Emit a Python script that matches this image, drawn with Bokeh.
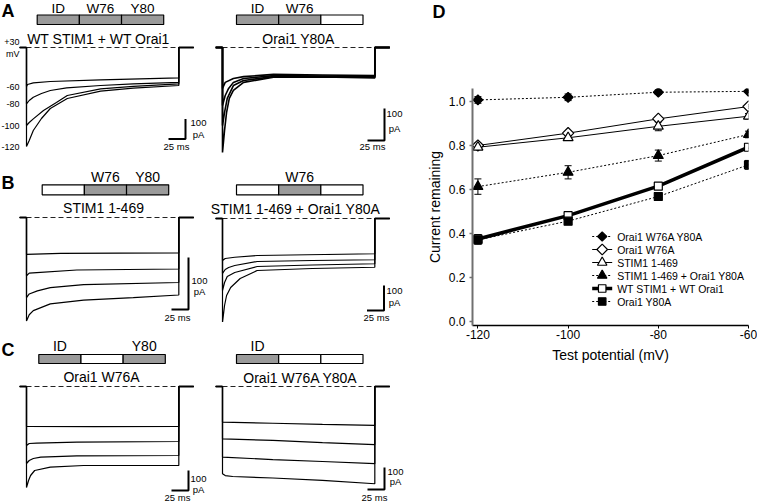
import math
from bokeh.plotting import figure
from bokeh.layouts import row, column
from bokeh.models import (Range1d, ColumnDataSource, Whisker, TeeHead, Title,
                          FixedTicker, NumeralTickFormatter)
from bokeh.core.properties import value
from bokeh.embed import file_html
from bokeh.resources import INLINE

FONT = "Liberation Sans"
GRAY = "#9a9a9a"

# ---------------- Panel D: current remaining vs test potential ----------------
test_potential = [-120, -100, -80, -60]
x_tick_labels = ["-120", "-100", "-80", "-60"]
y_ticks = [0.0, 0.2, 0.4, 0.6, 0.8, 1.0]

w76a_y80a_rem = [1.006, 1.018, 1.041, 1.045]
w76a_y80a_err = [0.015, 0.015, 0.010, 0.006]
w76a_rem = [0.799, 0.855, 0.920, 0.976]
w76a_err = [0.010, 0.008, 0.010, 0.010]
s469_rem = [0.791, 0.834, 0.886, 0.932]
s469_err = [0.010, 0.010, 0.020, 0.012]
s469_y80a_rem = [0.612, 0.677, 0.753, 0.849]
s469_y80a_err = [0.035, 0.030, 0.025, 0.015]
wt_rem = [0.374, 0.480, 0.614, 0.791]
wt_err = [0.020, 0.015, 0.010, 0.015]
y80a_rem = [0.370, 0.455, 0.567, 0.711]
y80a_err = [0.020, 0.012, 0.015, 0.020]

# ---------------- Panels A-C: current traces (time ms, current pA) ----------------
step_labels = ["-60", "-80", "-100", "-120"]

# A left: WT STIM1 + WT Orai1
wt_t = [[0, 1.5, 10, 35, 109, 224],
        [0, 4, 10, 22, 35, 59, 109, 157, 224],
        [0, 4, 10, 25, 44, 60, 109, 157, 224],
        [0, 4, 10, 22, 35, 60, 109, 157, 224]]
wt_i = [[-195, -185, -177, -170, -162, -152],
        [-282, -265, -249, -230, -215, -202, -190, -182, -174],
        [-390, -375, -357, -315, -275, -240, -207, -194, -182],
        [-495, -465, -415, -355, -305, -255, -218, -203, -190]]
# A right: Orai1 Y80A
y80a_t = [[0, 4, 16, 31, 75, 147, 224],
          [0, 4, 9, 16, 31, 75, 147, 224],
          [0, 3, 7, 16, 31, 75, 147, 224],
          [0, 3, 6, 10, 16, 31, 75, 147, 224]]
y80a_i = [[-128, -109, -97, -91, -84, -86, -88],
          [-181, -150, -128, -109, -97, -88, -89, -91],
          [-244, -203, -159, -119, -103, -91, -91, -93],
          [-328, -259, -203, -159, -134, -109, -93, -92, -95]]
# B left: STIM1 1-469
s469_t = [[0, 50, 224],
          [0, 4, 15, 74, 224],
          [0, 4, 16, 35, 84, 224],
          [0, 4, 10, 35, 84, 157, 224]]
s469_i = [[-71, -69, -68],
          [-112, -107, -106, -101, -99],
          [-154, -147, -141, -135, -129, -125],
          [-199, -187, -179, -166, -159, -154, -149]]
# B right: STIM1 1-469 + Orai1 Y80A
s469y_t = [[0, 4, 18, 51, 224],
           [0, 4, 9, 18, 51, 132, 224],
           [0, 3, 7, 18, 51, 132, 224],
           [0, 3, 6, 12, 26, 51, 132, 224]]
s469y_i = [[-168, -160, -155, -148, -141],
           [-220, -204, -196, -188, -172, -168, -165],
           [-288, -256, -232, -216, -192, -186, -181],
           [-416, -348, -308, -276, -240, -208, -200, -195]]
# C left: Orai1 W76A
w76a_t = [[0, 100, 224],
          [0, 4, 15, 74, 224],
          [0, 4, 10, 21, 74, 224],
          [0, 3, 6, 12, 35, 84, 224]]
w76a_i = [[-200, -201, -200],
          [-295, -285, -283, -278, -275],
          [-385, -370, -360, -353, -347, -345],
          [-505, -470, -445, -420, -403, -395, -395]]
# C right: Orai1 W76A Y80A
w76ay_t = [[0, 74, 147, 224],
           [0, 74, 147, 224],
           [0, 74, 147, 224],
           [0, 4, 15, 74, 147, 224]]
w76ay_i = [[-162, -167, -172, -177],
           [-238, -245, -255, -264],
           [-321, -332, -341, -351],
           [-397, -405, -409, -416, -427, -442]]

DOMAIN_NAMES = ["ID", "W76", "Y80"]

# ---------------- layout constants (page pixels) ----------------
MS_PER_PX = 25.0 / 17.0
PRE_MS, POST_MS = -10.0, 22.0
COL_X = [0, 209]
COL_W = [209, 196]
ROW_Y = [0, 170, 322]
ROW_H = [170, 152, 181]
DOMAIN_W = 126.5

panels = [
    dict(row=0, col=0, t=wt_t, i=wt_i, tx=26, by=47, bar_px=20, lw=1.2,
         letter="A", letter_y=10, title="WT STIM1 + WT Orai1", title_xy=(98, 38),
         domains=[1, 1, 1], dom_x=36.7, dom_top=14.5, dom_h=9.5, lab_y=7.6, lab_fs="13.5px",
         corner=(185, 138.5), s100=(198, 122), spa=(198, 133.5), sms=(176, 146), steps=True),
    dict(row=0, col=1, t=y80a_t, i=y80a_i, tx=222, by=47, bar_px=32, lw=1.6,
         letter=None, title="Orai1 Y80A", title_xy=(298, 38),
         domains=[1, 1, 0], dom_x=236, dom_top=14.5, dom_h=9.5, lab_y=7.6, lab_fs="13.5px",
         corner=(384, 140), s100=(394, 113), spa=(394, 128), sms=(372, 146), steps=False),
    dict(row=1, col=0, t=s469_t, i=s469_i, tx=26, by=217, bar_px=52, lw=1.2,
         letter="B", letter_y=182.5, title="STIM1 1-469", title_xy=(103, 207.5),
         domains=[0, 1, 1], dom_x=41.7, dom_top=184.3, dom_h=10, lab_y=176.5, lab_fs="14px",
         corner=(188, 309), s100=(199, 280), spa=(199, 291), sms=(177, 316.5), steps=False),
    dict(row=1, col=1, t=s469y_t, i=s469y_i, tx=222, by=218, bar_px=25, lw=1.2,
         letter=None, title="STIM1 1-469 + Orai1 Y80A", title_xy=(295, 208.3),
         domains=[0, 1, 0], dom_x=236, dom_top=184.3, dom_h=10, lab_y=176.5, lab_fs="14px",
         corner=(383.5, 310), s100=(394, 290), spa=(394, 302), sms=(376, 316.5), steps=False),
    dict(row=2, col=0, t=w76a_t, i=w76a_i, tx=26, by=386, bar_px=20, lw=1.2,
         letter="C", letter_y=349, title="Orai1 W76A", title_xy=(101, 376.7),
         domains=[1, 0, 1], dom_x=38.3, dom_top=354, dom_h=9, lab_y=345, lab_fs="14px",
         corner=(188, 490), s100=(198, 478), spa=(198, 489), sms=(177, 496.5), steps=False),
    dict(row=2, col=1, t=w76ay_t, i=w76ay_i, tx=222, by=386, bar_px=22, lw=1.2,
         letter=None, title="Orai1 W76A Y80A", title_xy=(300, 377.3),
         domains=[1, 0, 0], dom_x=236, dom_top=354, dom_h=9, lab_y=345, lab_fs="14px",
         corner=(384, 489), s100=(395, 471), spa=(395, 481), sms=(374, 496.5), steps=False),
]

TXT = dict(text_font=value(FONT), text_color="black")


def trace_panel(c):
    x0, y0 = COL_X[c["col"]], ROW_Y[c["row"]]
    W, H = COL_W[c["col"]], ROW_H[c["row"]]
    m = 100.0 / c["bar_px"]

    def fx(px):
        return (px - c["tx"]) * MS_PER_PX

    def fy(py):
        return -(py - c["by"]) * m

    p = figure(width=W, height=H, x_range=Range1d(fx(x0), fx(x0 + W)),
               y_range=Range1d(fy(y0 + H), fy(y0)), x_axis_type=None, y_axis_type=None,
               toolbar_location=None, output_backend="svg", min_border=0,
               outline_line_color=None)
    end = c["t"][0][-1]
    p.line([0, end], [0, 0], line_dash="5 3", line_color="#222222", line_width=1)
    xs, ys = [], []
    for t, cur in zip(c["t"], c["i"]):
        xs.append([PRE_MS, 0] + list(t) + [t[-1], t[-1] + POST_MS])
        ys.append([0, 0] + list(cur) + [0, 0])
    p.multi_line(xs, ys, line_color="black", line_width=c["lw"])
    p.multi_line([[PRE_MS, 0], [end, end + POST_MS]], [[0, 0], [0, 0]],
                 line_color="black", line_width=2)

    # scale bar: 25 ms x 100 pA
    cx, cy = fx(c["corner"][0]), fy(c["corner"][1])
    p.line([cx - 25, cx, cx], [cy, cy, cy + 100], line_color="black", line_width=2)
    p.text(x=[fx(c["s100"][0]), fx(c["spa"][0])], y=[fy(c["s100"][1]), fy(c["spa"][1])],
           text=["100", "pA"], text_font_size="9.5px", text_align="center",
           text_baseline="middle", **TXT)
    p.text(x=[fx(c["sms"][0])], y=[fy(c["sms"][1])], text=["25 ms"],
           text_font_size="9.5px", text_align="center", text_baseline="middle", **TXT)

    # domain bar
    seg = DOMAIN_W / 3
    lefts = [fx(c["dom_x"] + k * seg) for k in range(3)]
    rights = [fx(c["dom_x"] + (k + 1) * seg) for k in range(3)]
    top, bot = fy(c["dom_top"]), fy(c["dom_top"] + c["dom_h"])
    fills = [GRAY if d else "white" for d in c["domains"]]
    p.quad(left=lefts, right=rights, top=[top] * 3, bottom=[bot] * 3,
           fill_color=fills, line_color="black", line_width=1.2)
    names = [n for n, d in zip(DOMAIN_NAMES, c["domains"]) if d]
    ncx = [fx(c["dom_x"] + (k + 0.5) * seg) for k, d in enumerate(c["domains"]) if d]
    p.text(x=ncx, y=[fy(c["lab_y"])] * len(ncx), text=names,
           text_font_size=c["lab_fs"], text_align="center", text_baseline="middle", **TXT)

    p.text(x=[fx(c["title_xy"][0])], y=[fy(c["title_xy"][1])], text=[c["title"]],
           text_font_size="14px", text_align="center", text_baseline="middle", **TXT)

    if c["letter"]:
        p.text(x=[fx(1)], y=[fy(c["letter_y"])], text=[c["letter"]], text_font_size="18px",
               text_font_style="bold", text_align="left", text_baseline="middle", **TXT)

    if c["steps"]:
        lab_y = [cur[0] for cur in c["i"]] + [fy(41), fy(53)]
        p.text(x=[fx(19)] * 6, y=lab_y, text=step_labels + ["+30", "mV"],
               text_font_size="9px", text_align="right", text_baseline="middle", **TXT)
    return p


figs = [trace_panel(c) for c in panels]

# ---------------- Panel D ----------------
D_W, D_H = 352, 503
FR_L, FR_R, FR_T, FR_B = 67, 343, 88, 325      # frame inside the D figure (px)
XR = (-121.2, -60.0)
YR = (-0.0195, 1.058)

pD = figure(width=D_W, height=D_H, x_range=Range1d(*XR), y_range=Range1d(*YR),
            toolbar_location=None, output_backend="svg",
            min_border_left=FR_L, min_border_right=D_W - FR_R, min_border_top=FR_T,
            min_border_bottom=D_H - FR_B, outline_line_color=None)
pD.xgrid.visible = False
pD.ygrid.visible = False
pD.xaxis.ticker = FixedTicker(ticks=test_potential)
pD.xaxis.major_label_overrides = dict(zip(test_potential, x_tick_labels))
pD.yaxis.ticker = FixedTicker(ticks=y_ticks)
pD.yaxis.formatter = NumeralTickFormatter(format="0.0")
pD.xaxis.axis_label = "Test potential (mV)"
pD.yaxis.axis_label = "Current remaining"
for ax in (pD.xaxis[0], pD.yaxis[0]):
    ax.major_label_text_font = FONT
    ax.major_label_text_font_size = "12px"
    ax.major_label_text_color = "black"
    ax.axis_label_text_font = FONT
    ax.axis_label_text_font_size = "14px"
    ax.axis_label_text_font_style = "normal"
    ax.axis_label_text_color = "black"
    ax.minor_tick_line_color = None
    ax.major_tick_in = 0
    ax.major_tick_out = 3
pD.xaxis.axis_line_color = "black"
pD.xaxis.axis_line_width = 1.5
pD.xaxis.major_tick_line_color = "black"
pD.xaxis.major_label_standoff = 1
pD.xaxis.axis_label_standoff = 5
pD.yaxis.axis_line_color = "#707070"
pD.yaxis.axis_line_width = 2
pD.yaxis.major_tick_line_color = "#707070"
pD.yaxis.major_tick_line_width = 1.5
pD.yaxis.major_label_standoff = 4
pD.yaxis.axis_label_standoff = 3

# panel letter: a spacer title next to the frame, then the letter on top
pD.add_layout(Title(text=" ", text_font_size="1px", standoff=62), "above")
pD.add_layout(Title(text="D", align="left", offset=-40, vertical_align="top", standoff=0,
                    text_font=FONT, text_font_size="18px", text_font_style="bold",
                    text_color="black"), "above")

# name, values, errors, dash, width, marker, size, angle, fill
series = [
    ("Orai1 W76A Y80A", w76a_y80a_rem, w76a_y80a_err, "2 2", 1.0, "square", 7, math.pi / 4, "black"),
    ("Orai1 W76A", w76a_rem, w76a_err, "solid", 1.0, "square", 8, math.pi / 4, "white"),
    ("STIM1 1-469", s469_rem, s469_err, "solid", 1.0, "triangle", 10, 0, "white"),
    ("STIM1 1-469 + Orai1 Y80A", s469_y80a_rem, s469_y80a_err, "2 2", 1.0, "triangle", 10, 0, "black"),
    ("WT STIM1 + WT Orai1", wt_rem, wt_err, "solid", 3.5, "square", 8, 0, "white"),
    ("Orai1 Y80A", y80a_rem, y80a_err, "2 2", 1.0, "square", 8, 0, "black"),
]

for k in [5, 3, 0, 1, 2, 4]:
    s = series[k]
    pD.line(test_potential, s[1], line_color="black", line_width=s[4], line_dash=s[3])

for s in series:
    src = ColumnDataSource(dict(x=test_potential, upper=[a + e for a, e in zip(s[1], s[2])],
                                lower=[a - e for a, e in zip(s[1], s[2])]))
    pD.add_layout(Whisker(source=src, base="x", upper="upper", lower="lower",
                          line_color="black", line_width=1, level="underlay",
                          upper_head=TeeHead(size=7, line_color="black", line_width=1),
                          lower_head=TeeHead(size=7, line_color="black", line_width=1)))

for s in series:
    pD.scatter(test_potential, s[1], marker=s[5], size=s[6], angle=s[7], fill_color=s[8],
               line_color="black", line_width=1.2)

# ---- legend key inside the frame (positions in frame pixels) ----
LEG_GLYPH_X0, LEG_GLYPH_W = 119.7, 20
LEG_TEXT_X = 144.7
LEG_ROW0, LEG_PITCH = 148, 13


def kx(px):
    return XR[0] + px / (FR_R - FR_L) * (XR[1] - XR[0])


def ky(py):
    return YR[1] - py / (FR_B - FR_T) * (YR[1] - YR[0])


leg_names, leg_y = [], []
for k, s in enumerate(series):
    yk = ky(LEG_ROW0 + k * LEG_PITCH)
    pD.line([kx(LEG_GLYPH_X0), kx(LEG_GLYPH_X0 + LEG_GLYPH_W)], [yk, yk], line_color="black",
            line_width=s[4], line_dash=s[3])
    pD.scatter([kx(LEG_GLYPH_X0 + LEG_GLYPH_W / 2)], [yk], marker=s[5], size=s[6] - 0.5,
               angle=s[7], fill_color=s[8], line_color="black", line_width=1.2)
    leg_names.append(s[0])
    leg_y.append(yk)
pD.text(x=[kx(LEG_TEXT_X)] * len(leg_names), y=leg_y, text=leg_names,
        text_font_size="10.5px", text_align="left", text_baseline="middle", **TXT)

left = column(row(figs[0], figs[1]), row(figs[2], figs[3]), row(figs[4], figs[5]))
layout = row(left, pD)

open("out.html", "w").write(file_html(layout, INLINE))
